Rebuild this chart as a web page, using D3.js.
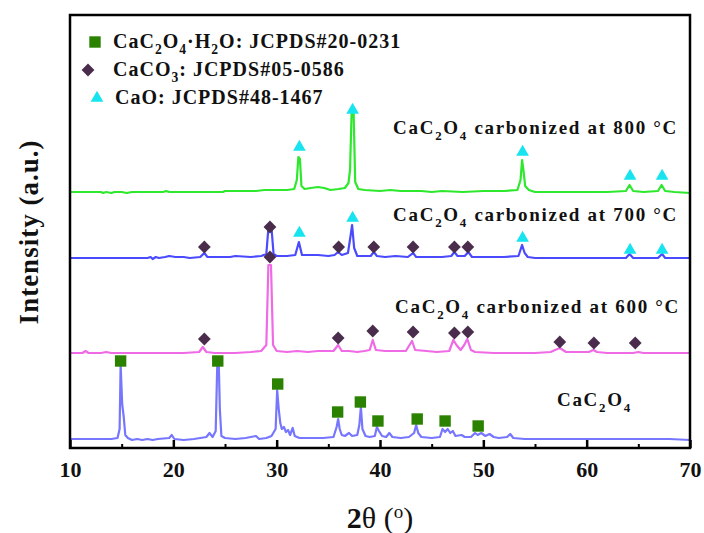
<!DOCTYPE html>
<html>
<head>
<meta charset="utf-8">
<script src="https://cdn.jsdelivr.net/npm/d3@7"></script>
<style>
  body { margin: 0; background: #fff; }
  svg { display: block; }
  text { font-family: "Liberation Serif", "Times New Roman", serif; font-weight: bold; fill: #111; }
</style>
</head>
<body>
<svg width="704" height="533"></svg>
<script>
// 2theta range
const thetaDomain = [10, 70]
const majorTicks = [10, 20, 30, 40, 50, 60, 70]
const minorTicks = [15, 25, 35, 45, 55, 65]

// stacking offsets (a.u.) for each pattern, top to bottom
const offset800 = 256
const offset700 = 190
const offset600 = 95
const offsetOxalate = 9

// patterns: [2theta, intensity above own baseline]
const xrd800 = [[10,0],[13,0],[13.2,-1],[13.5,0],[14,-1],[14.3,0],[15,0],[15.5,-1],[16,0],[19,0],[19.3,1],[19.6,0],[23,0],[24.8,0],[25,1],[27,1],[28,1],[28.8,2],[30,2],[31,2],[31.7,3],[31.95,12],[32.1,35],[32.25,33],[32.4,6],[32.7,3],[33.3,4],[34,5],[34.6,4],[35.2,2],[36,3],[36.6,4],[36.95,9],[37.1,22],[37.25,78],[37.45,78],[37.6,10],[37.9,3],[38.5,2],[40,1],[41,2],[42,1],[44,1],[45,0],[46,1],[48,0],[50,1],[52,1],[53.3,2],[53.6,12],[53.75,32],[53.9,20],[54.05,6],[54.4,2],[55,0],[58,0],[60,0],[62,0],[63.8,1],[64.15,7],[64.5,1],[65.5,0],[66.9,1],[67.25,7],[67.6,1],[68.5,0],[70,-1]]

const xrd700 = [[10,0],[12,0],[14,0],[15.5,0],[17.5,0],[17.8,1],[18,-1],[18.3,1],[18.6,0],[19.2,1],[19.6,2],[20.2,1],[21,1],[21.6,0],[22.6,1],[23.0,5],[23.3,1],[24,1],[25.5,1],[26,2],[27.5,1],[28.5,2],[29.0,4],[29.2,30],[29.5,30],[29.7,4],[30,2],[31,2],[31.8,3],[32.15,16],[32.45,3],[33,3],[34,3],[35,2],[35.6,3],[35.95,6],[36.3,3],[36.9,5],[37.15,22],[37.3,33],[37.5,10],[37.8,2],[38.5,2],[39.1,2],[39.4,6],[39.7,2],[40.5,1],[41.5,2],[42.7,1],[43.2,5],[43.5,1],[44.5,1],[46,1],[46.9,2],[47.2,6],[47.5,2],[48.2,2],[48.55,6],[48.9,1],[50,1],[52,1],[53.4,2],[53.75,13],[54,5],[54.3,1],[55,0],[58,0],[60,0],[63.8,0],[64.15,4],[64.5,0],[66.9,0],[67.3,4],[67.6,0],[70,0]]

const xrd600 = [[10,0],[11.2,0],[11.5,2],[11.8,0],[13,0],[13.5,1],[14,0],[17,0],[19,0],[21,0],[22.5,1],[22.85,6],[23.2,1],[24,0],[26,0],[27.5,1],[28.5,2],[29.0,8],[29.2,88],[29.45,88],[29.65,8],[30,2],[31,1],[32,2],[33,1],[34,2],[35.5,2],[35.95,8],[36.3,2],[37,2],[37.8,1],[38.5,2],[39.0,3],[39.3,13],[39.6,3],[40.5,2],[41.5,2],[42.5,2],[43.1,12],[43.4,3],[44.5,2],[45.5,1],[46.7,2],[47.1,13],[47.4,8],[47.8,3],[48.15,8],[48.45,14],[48.8,3],[49.2,1],[51,0],[55,0],[56.5,1],[57.4,5],[58,1],[60.2,1],[60.65,3],[61,1],[62,0],[64.5,0],[65,1],[65.5,0],[70,0]]

const xrdOxalate = [[10,0],[14.0,0],[14.6,1],[14.8,10],[14.9,74],[15.05,35],[15.2,22],[15.35,4],[15.6,1],[16,-1],[16.5,0],[17,-1],[17.5,0],[18,-1],[18.5,0],[19.6,1],[19.85,4],[20.1,0],[21,-1],[22,0],[23.2,2],[23.5,6],[23.8,2],[24.1,8],[24.25,74],[24.4,74],[24.5,30],[24.65,3],[25,1],[26,0],[27,1],[28,3],[28.3,0],[29,1],[29.5,3],[29.9,10],[30.05,49],[30.2,30],[30.35,16],[30.5,10],[30.7,12],[30.9,7],[31.1,9],[31.3,4],[31.55,11],[31.75,3],[32.2,1],[33.5,1],[34.5,1],[35.5,2],[35.8,12],[35.95,20],[36.1,10],[36.3,4],[36.6,3],[37.0,6],[37.3,3],[37.8,4],[38.0,14],[38.15,32],[38.3,10],[38.6,3],[39,2],[39.5,3],[39.7,12],[39.9,8],[40.2,3],[40.6,2],[40.9,6],[41.2,2],[42,1],[42.8,2],[43.3,6],[43.5,14],[43.7,6],[44,2],[45,1],[45.8,2],[46.05,10],[46.3,7],[46.55,10],[46.8,6],[47.05,8],[47.3,3],[47.9,4],[48.2,2],[48.8,2],[49.2,6],[49.45,4],[49.8,6],[50.2,3],[50.6,5],[51.0,2],[51.5,1],[52.3,2],[52.6,5],[52.9,1],[54,0],[55.3,0],[57,0],[60,0],[63,0],[66,0],[68,0],[70,-1]]

// phase markers: [2theta, height above own baseline]
const oxalateMarks = [[14.9,78],[24.3,78],[30.1,55],[35.9,27],[38.1,37],[39.8,18],[43.6,20],[46.3,18],[49.5,13]]
const carbonate600 = [[23.0,14],[29.35,96],[35.95,15],[39.3,22],[43.2,21],[47.2,20],[48.5,21],[57.4,11],[60.7,10],[64.7,10]]
const carbonate700 = [[23.0,11],[29.35,31],[36.0,11],[39.4,11],[43.2,11],[47.2,11],[48.5,11]]
const cao700 = [[32.2,25],[37.35,40],[53.8,20],[64.2,8],[67.3,8]]
const cao800 = [[32.2,45],[37.35,82],[53.8,40],[64.2,16],[67.3,16]]

const legendLabels = ["CaC_2O_4·H_2O: JCPDS#20-0231", "CaCO_3: JCPDS#05-0586", "CaO: JCPDS#48-1467"]
const patternLabels = ["CaC_2O_4 carbonized at 800 °C", "CaC_2O_4 carbonized at 700 °C", "CaC_2O_4 carbonized at 600 °C", "CaC_2O_4"]

var svg = d3.select("svg")
var margin = { left: 70, right: 14, top: 15, bottom: 85 }
var width = 704 - margin.left - margin.right,
    height = 533 - margin.top - margin.bottom

var x = d3.scaleLinear().domain(thetaDomain).range([margin.left, margin.left + width])
var y = d3.scaleLinear().domain([0, height]).range([margin.top + height, margin.top])

let markerColor = { square: "#2a8200", diamond: "#4a2d4c", triangle: "#18e4f0" }

let series = [
  { data: xrd800, off: offset800, color: "#2ee82e" },
  { data: xrd700, off: offset700, color: "#4a4aff" },
  { data: xrd600, off: offset600, color: "#f06ae6" },
  { data: xrdOxalate, off: offsetOxalate, color: "#7676ff" }
]

svg.append("defs").append("clipPath").attr("id", "plotclip")
  .append("rect")
  .attr("x", margin.left).attr("y", margin.top)
  .attr("width", width).attr("height", height)

let lineGen = off => d3.line().x(d => x(d[0])).y(d => y(d[1] + off))

svg.append("g")
  .attr("clip-path", "url(#plotclip)")
  .selectAll("path")
  .data(series)
  .enter()
  .append("path")
  .attr("d", s => lineGen(s.off)(s.data))
  .attr("fill", "none")
  .attr("stroke", s => s.color)
  .attr("stroke-width", 2.2)
  .attr("stroke-linejoin", "round")

function shapePath(kind, size) {
  if (kind === "triangle") return d3.symbol().type(d3.symbolTriangle).size(size)()
  return d3.symbol().type(d3.symbolSquare).size(size)() // diamond = rotated square
}
let markerSize = { square: 130, diamond: 82, triangle: 70 }

function drawMarks(list, off, kind) {
  svg.append("g")
    .selectAll("path")
    .data(list)
    .enter()
    .append("path")
    .attr("d", shapePath(kind, markerSize[kind]))
    .attr("transform", d => `translate(${x(d[0])},${y(d[1] + off)})` + (kind === "diamond" ? " rotate(45)" : ""))
    .attr("fill", markerColor[kind])
}
drawMarks(oxalateMarks, offsetOxalate, "square")
drawMarks(carbonate600, offset600, "diamond")
drawMarks(carbonate700, offset700, "diamond")
drawMarks(cao700, offset700, "triangle")
drawMarks(cao800, offset800, "triangle")

// text with "_n" for subscripts
function chem(text, str, fs) {
  let parts = str.split(/(_\d)/).filter(p => p.length)
  let down = false
  parts.forEach(p => {
    if (p[0] === "_") {
      text.append("tspan").attr("dy", down ? 0 : fs * 0.32).attr("font-size", fs * 0.68).text(p[1])
      down = true
    } else {
      text.append("tspan").attr("dy", down ? -fs * 0.32 : 0).text(p)
      down = false
    }
  })
}

// legend
let legendKinds = ["square", "diamond", "triangle"]
let legend = svg.append("g")
legendLabels.forEach((lab, i) => {
  let ly = 42 + i * 28
  legend.append("path")
    .attr("d", shapePath(legendKinds[i], markerSize[legendKinds[i]]))
    .attr("transform", `translate(${[95, 88, 97][i]},${ly})` + (legendKinds[i] === "diamond" ? " rotate(45)" : ""))
    .attr("fill", markerColor[legendKinds[i]])
  let t = legend.append("text")
    .attr("x", 113 + (i === 2 ? 2 : 0)).attr("y", ly + 6)
    .attr("font-size", 20).attr("letter-spacing", 1)
  chem(t, lab, 20)
})

// pattern labels
let labelPos = [[678, 134, "end"], [678, 221, "end"], [680, 313, "end"], [557, 406, "start"]]
patternLabels.forEach((lab, i) => {
  let t = svg.append("text")
    .attr("x", labelPos[i][0]).attr("y", labelPos[i][1])
    .attr("text-anchor", labelPos[i][2])
    .attr("font-size", 19).attr("letter-spacing", 1.7)
  chem(t, lab, 19)
})

// axes
svg.append("g")
  .attr("transform", `translate(0,${margin.top + height})`)
  .call(d3.axisBottom(x).tickValues(minorTicks).tickSize(-4).tickFormat(""))
  .call(g => g.select(".domain").remove())
  .selectAll("line").attr("stroke", "#000").attr("stroke-width", 2)

let xAxis = svg.append("g")
  .attr("transform", `translate(0,${margin.top + height})`)
  .call(d3.axisBottom(x).tickValues(majorTicks).tickSize(-8).tickPadding(13).tickFormat(d3.format("d")))
xAxis.select(".domain").remove()
xAxis.selectAll("line").attr("stroke", "#000").attr("stroke-width", 2.5)
xAxis.selectAll("text")
  .attr("font-family", "Liberation Serif, Times New Roman, serif")
  .attr("font-weight", "bold")
  .attr("font-size", 22)
  .attr("fill", "#111")

svg.append("rect")
  .attr("x", margin.left).attr("y", margin.top)
  .attr("width", width).attr("height", height)
  .attr("fill", "none")
  .attr("stroke", "#000")
  .attr("stroke-width", 2.5)

// axis titles
let xt = svg.append("text")
  .attr("x", x(40)).attr("y", 528)
  .attr("text-anchor", "middle")
  .attr("font-size", 30)
xt.append("tspan").text("2")
xt.append("tspan").attr("font-weight", "normal").text("θ (")
xt.append("tspan").attr("font-weight", "normal").attr("font-size", 19).attr("dy", -10).text("o")
xt.append("tspan").attr("font-weight", "normal").attr("dy", 10).text(")")

svg.append("text")
  .attr("transform", "translate(38,232) rotate(-90)")
  .attr("text-anchor", "middle")
  .attr("font-size", 27)
  .attr("letter-spacing", 1)
  .text("Intensity (a.u.)")
</script>
</body>
</html>
